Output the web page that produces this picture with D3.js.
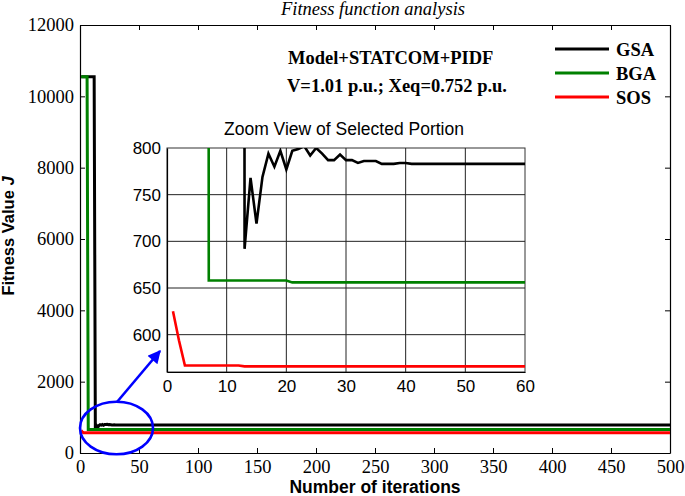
<!DOCTYPE html>
<html><head><meta charset="utf-8">
<script src="https://cdn.jsdelivr.net/npm/d3@7"></script>
<style>body{margin:0;background:#fff}svg{display:block}</style>
</head><body>
<svg id="c" width="685" height="496"></svg>
<script>
// ---- data ----
const seriesNames = ["GSA", "BGA", "SOS"];
const seriesColors = ["#000000", "#008000", "#ff0000"];
const gsaIter = [1, 12, 13, 14, 15, 16, 17, 18, 19, 20, 21, 22, 23, 24, 25, 26, 27, 28, 29, 30, 31, 32, 33, 35, 36, 38, 39, 40, 41, 500];
const gsaVal  = [10550, 10550, 692, 768, 719, 769, 794, 780, 797, 777, 797, 799, 802, 792, 800, 794, 787, 787, 793, 787, 787, 784, 786, 786, 783, 783, 784, 784, 783, 783];
const bgaIter = [1, 6, 7, 20, 21, 500];
const bgaVal  = [10550, 10550, 658, 658, 656, 656];
const sosIter = [1, 2, 3, 12, 13, 500];
const sosVal  = [625, 594, 567, 567, 566, 566];
const mainXTicks = [0, 50, 100, 150, 200, 250, 300, 350, 400, 450, 500];
const mainYTicks = [0, 2000, 4000, 6000, 8000, 10000, 12000];
const insetXTicks = [0, 10, 20, 30, 40, 50, 60];
const insetYTicks = [600, 650, 700, 750, 800];

const series = [
  {name: seriesNames[0], color: seriesColors[0], pts: gsaIter.map((x, i) => [x, gsaVal[i]])},
  {name: seriesNames[1], color: seriesColors[1], pts: bgaIter.map((x, i) => [x, bgaVal[i]])},
  {name: seriesNames[2], color: seriesColors[2], pts: sosIter.map((x, i) => [x, sosVal[i]])}
];

const svg = d3.select("#c");
const serif = "'Liberation Serif','Times New Roman',serif";
const sans = "'Liberation Sans',Arial,sans-serif";
const SF = "18.5px";

// ---- main axes ----
const L = 80, R = 670, T = 25, B = 453;
const x = d3.scaleLinear().domain([0, 500]).range([L, R]);
const y = d3.scaleLinear().domain([0, 12000]).range([B, T]);

const defs = svg.append("defs");
defs.append("clipPath").attr("id", "mainclip")
  .append("rect").attr("x", L).attr("y", T).attr("width", R - L).attr("height", B - T);

function styleAxis(g, font, size) {
  g.select(".domain").attr("stroke", "#000").attr("stroke-width", 1.2);
  g.selectAll(".tick line").attr("stroke", "#000");
  g.selectAll("text").attr("font-family", font).attr("font-size", size).attr("fill", "#000");
}

svg.append("g").attr("transform", `translate(0,${B})`)
  .call(d3.axisBottom(x).tickValues(mainXTicks).tickSize(-5).tickPadding(7).tickSizeOuter(0))
  .call(g => styleAxis(g, serif, SF));
svg.append("g").attr("transform", `translate(0,${T})`)
  .call(d3.axisTop(x).tickValues(mainXTicks).tickSize(-5).tickFormat("").tickSizeOuter(0))
  .call(g => styleAxis(g, serif, SF));
svg.append("g").attr("transform", `translate(${L},0)`)
  .call(d3.axisLeft(y).tickValues(mainYTicks).tickSize(-5).tickPadding(6).tickSizeOuter(0).tickFormat(d3.format("d")))
  .call(g => styleAxis(g, serif, SF));
svg.append("g").attr("transform", `translate(${R},0)`)
  .call(d3.axisRight(y).tickValues(mainYTicks).tickSize(-5).tickFormat("").tickSizeOuter(0))
  .call(g => styleAxis(g, serif, SF));

const line = d3.line().x(d => x(d[0])).y(d => y(d[1]));
svg.append("g").attr("clip-path", "url(#mainclip)")
  .selectAll("path").data(series).join("path")
  .attr("d", d => line(d.pts)).attr("fill", "none")
  .attr("stroke", d => d.color).attr("stroke-width", 3);

// ---- title and annotations ----
svg.append("text").attr("x", 373).attr("y", 15).attr("text-anchor", "middle")
  .attr("font-family", serif).attr("font-style", "italic").attr("font-size", SF)
  .text("Fitness function analysis");
svg.append("text").attr("x", 288).attr("y", 64)
  .attr("font-family", serif).attr("font-weight", "bold").attr("font-size", SF)
  .text("Model+STATCOM+PIDF");
svg.append("text").attr("x", 287).attr("y", 92)
  .attr("font-family", serif).attr("font-weight", "bold").attr("font-size", SF)
  .text("V=1.01 p.u.; Xeq=0.752 p.u.");

// legend
const legY = [49, 73, 97];
const leg = svg.append("g");
series.forEach((s, i) => {
  leg.append("line").attr("x1", 555).attr("x2", 609).attr("y1", legY[i]).attr("y2", legY[i])
    .attr("stroke", s.color).attr("stroke-width", 3);
  leg.append("text").attr("x", 616).attr("y", legY[i] + 7)
    .attr("font-family", serif).attr("font-weight", "bold").attr("font-size", SF)
    .text(s.name);
});

// axis labels
svg.append("text").attr("x", 375).attr("y", 493).attr("text-anchor", "middle")
  .attr("font-family", sans).attr("font-weight", "bold").attr("font-size", "17.5px")
  .text("Number of iterations");
const yl = svg.append("text").attr("transform", "translate(14,236) rotate(-90)")
  .attr("text-anchor", "middle")
  .attr("font-family", sans).attr("font-weight", "bold").attr("font-size", "16.5px");
yl.append("tspan").text("Fitness Value ");
yl.append("tspan").attr("font-style", "italic").text("J");

// ---- inset ----
const iL = 167, iR = 525, iT = 148, iB = 372;
const ix = d3.scaleLinear().domain([0, 60]).range([iL, iR]);
const iy = d3.scaleLinear().domain([560, 800]).range([iB, iT]);

svg.append("rect").attr("x", iL).attr("y", iT).attr("width", iR - iL).attr("height", iB - iT)
  .attr("fill", "#fff").attr("stroke", "#333").attr("stroke-width", 1);
defs.append("clipPath").attr("id", "insetclip")
  .append("rect").attr("x", iL).attr("y", iT).attr("width", iR - iL).attr("height", iB - iT);

// grid
const grid = svg.append("g").attr("stroke", "#222").attr("stroke-width", 1);
grid.selectAll("line.gx").data(insetXTicks.filter(d => d > 0 && d < 60)).join("line")
  .attr("x1", d => ix(d)).attr("x2", d => ix(d)).attr("y1", iT).attr("y2", iB);
grid.selectAll("line.gy").data(insetYTicks.filter(d => d < 800)).join("line")
  .attr("y1", d => iy(d)).attr("y2", d => iy(d)).attr("x1", iL).attr("x2", iR);

const iline = d3.line().x(d => ix(d[0])).y(d => iy(d[1]));
svg.append("g").attr("clip-path", "url(#insetclip)")
  .selectAll("path").data(series).join("path")
  .attr("d", d => iline(d.pts)).attr("fill", "none")
  .attr("stroke", d => d.color).attr("stroke-width", 2.6).attr("stroke-linejoin", "miter");

svg.append("g").attr("transform", `translate(0,${iB})`)
  .call(d3.axisBottom(ix).tickValues(insetXTicks).tickSize(0).tickPadding(8).tickSizeOuter(0))
  .call(g => styleAxis(g, sans, "17px"));
svg.append("g").attr("transform", `translate(${iL},0)`)
  .call(d3.axisLeft(iy).tickValues(insetYTicks).tickSize(0).tickPadding(6).tickSizeOuter(0))
  .call(g => styleAxis(g, sans, "17px"));

svg.append("text").attr("x", 344).attr("y", 135).attr("text-anchor", "middle")
  .attr("font-family", sans).attr("font-size", "17.5px")
  .text("Zoom View of Selected Portion");

// ---- ellipse and arrow ----
svg.append("ellipse").attr("cx", 116.5).attr("cy", 428).attr("rx", 36.5).attr("ry", 26.3)
  .attr("fill", "none").attr("stroke", "#0000ff").attr("stroke-width", 2.6);
defs.append("marker").attr("id", "ah").attr("viewBox", "0 0 10 10")
  .attr("refX", 9).attr("refY", 5).attr("markerWidth", 6).attr("markerHeight", 5)
  .attr("markerUnits", "strokeWidth").attr("orient", "auto")
  .append("path").attr("d", "M0,0 L10,5 L0,10 Z").attr("fill", "#0000ff");
svg.append("line").attr("x1", 117).attr("y1", 402).attr("x2", 160).attr("y2", 351)
  .attr("stroke", "#0000ff").attr("stroke-width", 2.6).attr("marker-end", "url(#ah)");
</script>
</body></html>
